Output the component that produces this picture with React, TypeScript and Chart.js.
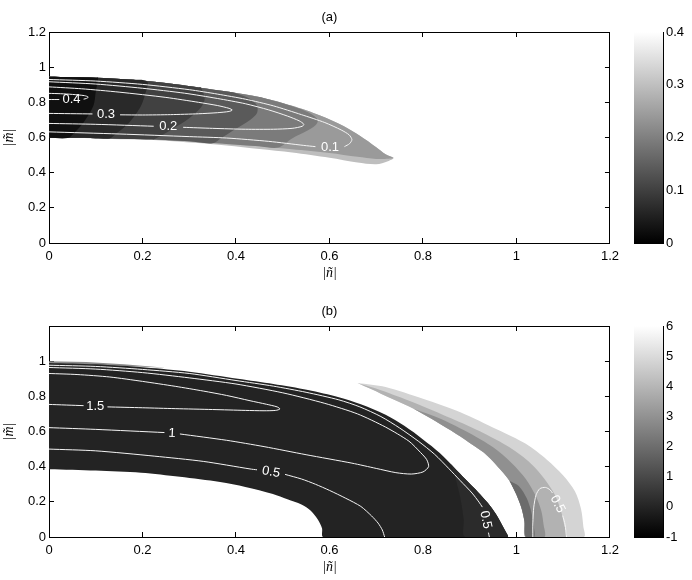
import { useEffect, useRef } from 'react';
import { Chart, registerables } from 'chart.js';

Chart.register(...registerables);

type P = [number, number];

// ---------- axes / ticks ----------
const X_TICKS = [0, 0.2, 0.4, 0.6, 0.8, 1, 1.2];
const Y_TICKS_A = [0, 0.2, 0.4, 0.6, 0.8, 1, 1.2];
const Y_TICKS_B = [0, 0.2, 0.4, 0.6, 0.8, 1];
const CBAR_TICKS_A = [0, 0.1, 0.2, 0.3, 0.4];
const CBAR_TICKS_B = [-1, 0, 1, 2, 3, 4, 5, 6];
const CBAR_RANGE_A: P = [0, 0.4];
const CBAR_RANGE_B: P = [-1, 6];

// ---------- panel (a): filled bands ----------
const A_UPPER: P[] = [[0, .945], [.1, .94], [.17, .93], [.25, .91], [.32, .885], [.385, .86], [.45, .83], [.52, .78], [.58, .725], [.63, .665], [.665, .61], [.70, .545], [.72, .505], [.737, .483]];
const A_LOWER: P[] = [[.725, .465], [.70, .448], [.66, .458], [.60, .485], [.52, .515], [.45, .535], [.38, .555], [.31, .57], [.24, .583], [.17, .59], [.1, .595], [0, .598]];
const A_BOTTOM: P[] = [[.737, .483], [.70, .478], [.66, .49], [.60, .512], [.52, .533], [.45, .55], [.38, .563], [.30, .578], [.22, .59], [.17, .592], [.1, .596], [0, .598]];
const A_EDGE5: P[] = [[.465, .82], [.50, .795], [.535, .765], [.56, .735], [.575, .70], [.57, .67], [.55, .635], [.52, .595], [.49, .543]];
const A_EDGE4: P[] = [[.40, .852], [.43, .82], [.445, .78], [.445, .74], [.43, .70], [.40, .65], [.37, .60], [.35, .567]];
const A_EDGE3: P[] = [[.325, .884], [.333, .82], [.325, .77], [.30, .71], [.265, .65], [.225, .59]];
const A_EDGE2: P[] = [[.21, .918], [.205, .84], [.195, .77], [.17, .68], [.145, .625], [.13, .595]];
const A_EDGE1: P[] = [[.105, .94], [.10, .86], [.095, .78], [.075, .69], [.055, .63], [.04, .597]];
const A_COLORS = ['#bebebe', '#9a9a9a', '#7b7b7b', '#5a5a5a', '#414141', '#292929', '#101010'];

// ---------- panel (a): contour lines ----------
const A_C04_L: P[] = [[0, .816], [.022, .816]];
const A_C04_R: P[] = [[.074, .818], [.08, .822], [.084, .83], [.076, .838], [.05, .845], [.025, .849], [0, .851]];
const A_C03_L: P[] = [[0, .737], [.093, .734]];
const A_C03_R: P[] = [[.152, .729], [.20, .728], [.26, .73], [.32, .735], [.36, .741], [.385, .748], [.392, .756], [.385, .766], [.36, .782], [.32, .80], [.25, .828], [.15, .858], [.07, .877], [0, .888]];
const A_C02_L: P[] = [[0, .68], [.1, .675], [.224, .664]];
const A_C02_R: P[] = [[.287, .658], [.35, .652], [.42, .647], [.48, .647], [.52, .652], [.542, .664], [.545, .676], [.535, .695], [.51, .722], [.47, .757], [.42, .792], [.36, .822], [.29, .852], [.2, .88], [.1, .904], [0, .917]];
const A_C01_L: P[] = [[0, .632], [.15, .62], [.3, .605], [.38, .597], [.47, .578], [.545, .555], [.57, .548]];
const A_C01_R: P[] = [[.632, .548], [.643, .565], [.648, .588], [.642, .615], [.625, .643], [.59, .685], [.54, .73], [.48, .78], [.42, .818], [.36, .847], [.3, .872], [.2, .902], [.1, .921], [0, .93]];
const A_LABELS = [
  { text: '0.4', x: .048, y: .815, rot: 0 },
  { text: '0.3', x: .122, y: .731, rot: 0 },
  { text: '0.2', x: .255, y: .661, rot: 0 },
  { text: '0.1', x: .601, y: .546, rot: 0 },
];

// ---------- panel (b): filled regions ----------
const B_RIM: P[] = [[0, .999], [.08, .995], [.16, .983], [.25, .962], [.16, .972], [0, .985]];
const B_TOP: P[] = [[0, .99], [.1, .982], [.207, .964], [.3, .94], [.404, .90], [.48, .87], [.554, .836], [.62, .795], [.667, .755], [.72, .695], [.76, .632], [.80, .555], [.836, .478], [.865, .40], [.892, .325], [.918, .255], [.939, .193], [.955, .135], [.967, .08], [.976, .035], [.981, 0]];
const B_HOLE: P[] = [[.587, 0], [.584, .05], [.575, .10], [.56, .15], [.54, .185], [.51, .215], [.479, .245], [.42, .285], [.366, .313], [.28, .343], [.197, .366], [.1, .378], [0, .386]];
const B_SUBTLE: P[] = [[.86, .415], [.87, .33], [.88, .22], [.887, .10], [.89, 0], [.981, 0], [.976, .035], [.967, .08], [.955, .135], [.939, .193], [.918, .255], [.892, .325], [.865, .40]];
const C_OUTER: P[] = [[.66, .876], [.72, .853], [.80, .786], [.88, .71], [.96, .61], [1.02, .53], [1.065, .44], [1.10, .35], [1.125, .26], [1.138, .16], [1.143, .06], [1.144, 0]];
const C_INNER: P[] = [[1.02, 0], [1.017, .09], [1.01, .17], [1.0, .24], [.985, .32], [.96, .40], [.93, .48], [.90, .535], [.86, .605], [.82, .67], [.78, .73], [.73, .79], [.69, .84], [.66, .876]];
const C1_EDGE: P[] = [[.66, .876], [.71, .835], [.78, .765], [.86, .675], [.93, .59], [.985, .51], [1.03, .42], [1.06, .33], [1.082, .24], [1.095, .15], [1.102, .07], [1.106, 0]];
const C2_EDGE: P[] = [[.78, .73], [.84, .67], [.90, .59], [.95, .51], [.99, .42], [1.02, .33], [1.04, .24], [1.053, .15], [1.058, .07], [1.06, 0]];
const C3_EDGE: P[] = [[.985, .32], [1.005, .29], [1.022, .22], [1.032, .14], [1.037, .06], [1.038, 0]];
const B_COLORS = { rim: '#8c8c8c', dark: '#232323', subtle: '#2b2b2b', c0: '#d4d4d4', c1: '#b2b2b2', c2: '#909090', c3: '#6b6b6b' };

// ---------- panel (b): contour lines ----------
const B_C05A_1: P[] = [[0, .977], [.1, .97], [.2, .953], [.3, .93], [.4, .89], [.48, .858], [.55, .823], [.62, .78], [.665, .74], [.71, .685], [.75, .62], [.79, .545], [.825, .47], [.855, .39], [.88, .32], [.905, .25], [.92, .198], [.927, .17]];
const B_C05A_2: P[] = [[.94, .025], [.942, 0]];
const B_C10_1: P[] = [[0, .622], [.1, .612], [.247, .594]];
const B_C10_2: P[] = [[.28, .586], [.38, .55], [.46, .514], [.55, .468], [.648, .42], [.70, .39], [.742, .366], [.775, .358], [.80, .37], [.812, .40], [.808, .44], [.795, .48], [.77, .545], [.72, .625], [.66, .70], [.59, .76], [.50, .82], [.40, .87], [.30, .905], [.2, .935], [.1, .955], [0, .964]];
const B_C15_1: P[] = [[0, .754], [.074, .747]];
const B_C15_2: P[] = [[.125, .74], [.2, .735], [.27, .73], [.35, .725], [.42, .72], [.46, .718], [.485, .72], [.494, .728], [.488, .74], [.465, .755], [.43, .775], [.38, .805], [.33, .83], [.27, .857], [.2, .885], [.13, .91], [.06, .924], [0, .93]];
const B_C05B_1: P[] = [[0, .50], [.1, .49], [.225, .46], [.33, .43], [.43, .387], [.445, .382]];
const B_C05B_2: P[] = [[.505, .356], [.54, .33], [.57, .30], [.60, .265], [.635, .22], [.667, .174], [.69, .12], [.704, .079], [.713, .04], [.718, 0]];
const B_CC_L: P[] = [[1.035, 0], [1.035, .08], [1.037, .17], [1.042, .24], [1.05, .275], [1.062, .282], [1.072, .268], [1.077, .25]];
const B_CC_R: P[] = [[1.099, .122], [1.104, .07], [1.107, 0]];
const B_LABELS = [
  { text: '1.5', x: .099, y: .743, rot: 0 },
  { text: '1', x: .263, y: .59, rot: 3 },
  { text: '0.5', x: .475, y: .369, rot: 10 },
  { text: '0.5', x: .934, y: .098, rot: 78 },
  { text: '0.5', x: 1.088, y: .187, rot: 63 },
];

// ---------- helpers ----------
const SANS = "'Liberation Sans', Arial, Helvetica, sans-serif";
const SERIF = "'Liberation Serif', 'DejaVu Serif', 'Times New Roman', serif";
const TICK_FONT = { family: SANS, size: 13 };

const pts = (a: P[]) => a.map(([x, y]) => ({ x, y }));

function bandA(edge: P[]): P[] {
  const x0 = edge[0][0];
  const x1 = edge[edge.length - 1][0];
  return [...A_UPPER.filter((p) => p[0] < x0), ...edge, ...A_BOTTOM.filter((p) => p[0] < x1)];
}

const labelPlugin = {
  id: 'contourLabels',
  afterDatasetsDraw(chart: any, _a: any, opts: any) {
    const labels = (opts && opts.labels) || [];
    const { ctx, chartArea } = chart;
    const xs = chart.scales.x;
    const ys = chart.scales.y;
    ctx.save();
    ctx.beginPath();
    ctx.rect(chartArea.left, chartArea.top, chartArea.right - chartArea.left, chartArea.bottom - chartArea.top);
    ctx.clip();
    ctx.fillStyle = '#ffffff';
    ctx.font = `13px ${SANS}`;
    ctx.textAlign = 'center';
    ctx.textBaseline = 'middle';
    for (const l of labels) {
      ctx.save();
      ctx.translate(xs.getPixelForValue(l.x), ys.getPixelForValue(l.y));
      ctx.rotate((l.rot * Math.PI) / 180);
      ctx.fillText(l.text, 0, 0);
      ctx.restore();
    }
    ctx.restore();
  },
};

function axis(position: string, min: number, max: number, ticks: number[], size: number, labels: boolean, title?: string) {
  const horizontal = position === 'top' || position === 'bottom';
  return {
    type: 'linear',
    position,
    min,
    max,
    afterBuildTicks: (s: any) => {
      s.ticks = ticks.map((v) => ({ value: v }));
    },
    afterFit: (s: any) => {
      if (horizontal) s.height = size;
      else s.width = size;
    },
    grid: { display: true, drawOnChartArea: false, drawTicks: true, tickLength: -5, color: '#000', lineWidth: 1 },
    border: { display: true, color: '#000', width: 1 },
    ticks: {
      display: labels,
      padding: horizontal ? 11 : 8,
      color: '#000',
      font: TICK_FONT,
      maxRotation: 0,
      autoSkip: false,
      callback: (v: number) => String(v),
    },
    title: title
      ? {
          display: true,
          text: title,
          color: '#000',
          font: { family: SERIF, size: 14, style: 'italic' },
          padding: horizontal ? { top: 0, bottom: 8 } : { top: 1, bottom: 0 },
        }
      : { display: false },
  };
}

function mainConfig(title: string, polys: { pts: P[]; color: string; tension: number }[], lines: P[][], labels: any[], yTicks: number[]) {
  const datasets: any[] = [
    ...polys.map((p, i) => ({
      type: 'line',
      data: pts(p.pts),
      xAxisID: 'x',
      yAxisID: 'y',
      backgroundColor: p.color,
      borderWidth: 0,
      fill: 'shape',
      pointRadius: 0,
      tension: p.tension,
      order: 1000 - i,
    })),
    ...lines.map((l) => ({
      type: 'line',
      data: pts(l),
      xAxisID: 'x',
      yAxisID: 'y',
      borderColor: '#f4f4f4',
      borderWidth: 1,
      fill: false,
      pointRadius: 0,
      tension: 0.25,
      order: 0,
    })),
  ];
  return {
    type: 'line',
    data: { datasets },
    options: {
      responsive: false,
      animation: false,
      devicePixelRatio: 1,
      events: [],
      layout: { padding: { left: 0, right: 17, top: 0, bottom: 0 } },
      plugins: {
        legend: { display: false },
        tooltip: { enabled: false },
        title: {
          display: true,
          text: title,
          fullSize: false,
          color: '#000',
          font: { family: SANS, size: 13, weight: 'normal' },
          padding: { top: 10, bottom: 6.4 },
        },
        contourLabels: { labels },
      },
      scales: {
        x: axis('bottom', 0, 1.2, X_TICKS, 47, true, '|ñ|'),
        x2: axis('top', 0, 1.2, X_TICKS, 0, false),
        y: axis('left', 0, 1.2, yTicks, 49, true, '|m\u0303|'),
        y2: axis('right', 0, 1.2, yTicks, 0, false),
      },
    },
    plugins: [labelPlugin],
  };
}

function cbarConfig(range: P, ticks: number[]) {
  const [min, max] = range;
  const frame = (position: string) => ({
    type: 'linear',
    position,
    min: 0,
    max: 1,
    afterFit: (s: any) => {
      s.height = 0;
    },
    ticks: { display: false },
    grid: { display: false },
    border: { display: true, color: '#000', width: 1 },
  });
  return {
    type: 'line',
    data: {
      datasets: [
        {
          data: pts([[0, min], [1, min], [1, max], [0, max]]),
          xAxisID: 'x',
          yAxisID: 'y',
          fill: 'shape',
          borderWidth: 0,
          pointRadius: 0,
          backgroundColor: (c: any) => {
            const ch = c.chart;
            const area = ch.chartArea;
            if (!area || !isFinite(area.top) || !isFinite(area.bottom) || area.bottom === area.top) return '#808080';
            const g = ch.ctx.createLinearGradient(0, area.bottom, 0, area.top);
            g.addColorStop(0, '#000000');
            g.addColorStop(1, '#ffffff');
            return g;
          },
        },
      ],
    },
    options: {
      responsive: false,
      animation: false,
      devicePixelRatio: 1,
      events: [],
      layout: { padding: { left: 4, right: 0, top: 32, bottom: 47 } },
      plugins: { legend: { display: false }, tooltip: { enabled: false }, title: { display: false } },
      scales: {
        x: frame('bottom'),
        x2: frame('top'),
        y: axis('right', min, max, ticks, 29, true),
        y2: axis('left', min, max, ticks, 0, false),
      },
    },
  };
}

const T = 0.3;
const POLYS_A = [
  { pts: [...A_UPPER, ...A_LOWER], color: A_COLORS[0], tension: T },
  { pts: [...A_UPPER, ...A_BOTTOM.slice(1)], color: A_COLORS[1], tension: T },
  { pts: bandA(A_EDGE5), color: A_COLORS[2], tension: T },
  { pts: bandA(A_EDGE4), color: A_COLORS[3], tension: T },
  { pts: bandA(A_EDGE3), color: A_COLORS[4], tension: T },
  { pts: bandA(A_EDGE2), color: A_COLORS[5], tension: T },
  { pts: bandA(A_EDGE1), color: A_COLORS[6], tension: T },
];
const LINES_A = [A_C04_L, A_C04_R, A_C03_L, A_C03_R, A_C02_L, A_C02_R, A_C01_L, A_C01_R];

const POLYS_B = [
  { pts: B_RIM, color: B_COLORS.rim, tension: 0 },
  { pts: [...B_TOP, ...B_HOLE], color: B_COLORS.dark, tension: T },
  { pts: B_SUBTLE, color: B_COLORS.subtle, tension: T },
  { pts: [...C_OUTER, ...C_INNER], color: B_COLORS.c0, tension: T },
  { pts: [...C1_EDGE, ...C_INNER], color: B_COLORS.c1, tension: T },
  { pts: [...C2_EDGE, ...C_INNER.filter((p) => p[1] < 0.73)], color: B_COLORS.c2, tension: T },
  { pts: [...C3_EDGE, ...C_INNER.filter((p) => p[1] < 0.32)], color: B_COLORS.c3, tension: T },
];
const LINES_B = [B_C05A_1, B_C05A_2, B_C10_1, B_C10_2, B_C15_1, B_C15_2, B_C05B_1, B_C05B_2, B_CC_L, B_CC_R];

export default function App() {
  const aRef = useRef<HTMLCanvasElement>(null);
  const caRef = useRef<HTMLCanvasElement>(null);
  const bRef = useRef<HTMLCanvasElement>(null);
  const cbRef = useRef<HTMLCanvasElement>(null);

  useEffect(() => {
    const charts = [
      new Chart(aRef.current as any, mainConfig('(a)', POLYS_A, LINES_A, A_LABELS, Y_TICKS_A) as any),
      new Chart(caRef.current as any, cbarConfig(CBAR_RANGE_A, CBAR_TICKS_A) as any),
      new Chart(bRef.current as any, mainConfig('(b)', POLYS_B, LINES_B, B_LABELS, Y_TICKS_B) as any),
      new Chart(cbRef.current as any, cbarConfig(CBAR_RANGE_B, CBAR_TICKS_B) as any),
    ];
    return () => charts.forEach((c) => c.destroy());
  }, []);

  const cs = (left: number, top: number, w: number, h: number) => ({ position: 'absolute' as const, left, top, width: w, height: h });

  return (
    <div style={{ position: 'absolute', left: 0, top: 0, width: 692, height: 580, overflow: 'hidden', background: '#fff' }}>
      <canvas ref={aRef} width={630} height={290} style={cs(0, 0, 630, 290)} />
      <canvas ref={caRef} width={62} height={290} style={cs(630, 0, 62, 290)} />
      <canvas ref={bRef} width={630} height={290} style={cs(0, 294, 630, 290)} />
      <canvas ref={cbRef} width={62} height={290} style={cs(630, 294, 62, 290)} />
    </div>
  );
}
